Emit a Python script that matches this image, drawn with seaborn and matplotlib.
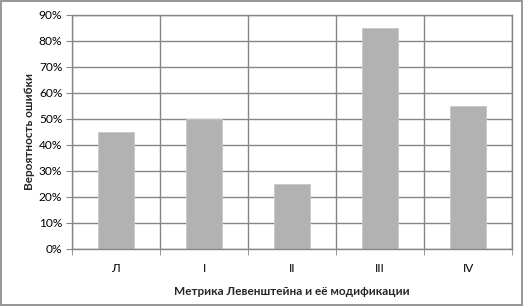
"""
Error probability for the Levenshtein metric and its modifications.
"""
import matplotlib

matplotlib.use("Agg")
import matplotlib.pyplot as plt
import numpy as np
import pandas as pd
import seaborn as sns
from matplotlib.patches import Rectangle
from matplotlib.ticker import FuncFormatter, MultipleLocator

categories = ["Л", "I", "II", "III", "IV"]
error_prob = [0.45, 0.50, 0.25, 0.85, 0.55]

GRID = "#868686"
BAR = "#b2b2b2"


def main() -> None:
    sns.set_style("white")
    plt.rcParams["font.family"] = ["Lato", "DejaVu Sans"]

    df = pd.DataFrame({"metric": categories, "prob": error_prob})

    fig = plt.figure(figsize=(5.23, 3.06), dpi=100)
    ax = fig.add_axes([0.1377, 0.187, 0.8413, 0.764])

    sns.barplot(data=df, x="metric", y="prob", order=categories, color=BAR,
                width=0.4, saturation=1, edgecolor="#c8c8c8", linewidth=0.6, ax=ax)

    ax.set_ylim(0, 0.9)
    ax.set_xlim(-0.5, len(categories) - 0.5)
    ax.yaxis.set_major_locator(MultipleLocator(0.1))
    ax.yaxis.set_major_formatter(FuncFormatter(lambda v, _: f"{v * 100:.0f}%"))

    ax.set_xticks(np.arange(-0.5, len(categories)), minor=True)
    ax.grid(axis="y", which="major", color=GRID, linewidth=1)
    ax.grid(axis="x", which="minor", color=GRID, linewidth=1)
    ax.set_axisbelow(True)
    for side in ["left", "bottom", "right", "top"]:
        ax.spines[side].set_color(GRID)
        ax.spines[side].set_linewidth(1)

    ax.tick_params(axis="x", which="major", length=0, pad=10, labelsize=8.6, colors="black")
    ax.tick_params(axis="x", which="minor", length=4, color=GRID, direction="out", bottom=True)
    ax.tick_params(axis="y", which="major", length=4, color=GRID, direction="out", left=True,
                   labelsize=8.6, pad=3, colors="black")

    ax.set_xlabel("Метрика Левенштейна и её модификации", fontsize=8.5,
                  fontweight="bold", labelpad=9)
    ax.set_ylabel("Вероятность ошибки", fontsize=8.5, fontweight="bold", labelpad=3)

    fig.patches.append(Rectangle((0.001, 0.002), 0.997, 0.995, transform=fig.transFigure,
                                 fill=False, edgecolor=GRID, linewidth=1.2))

    fig.savefig("out.png", dpi=100)
    plt.close(fig)


if __name__ == "__main__":
    main()
